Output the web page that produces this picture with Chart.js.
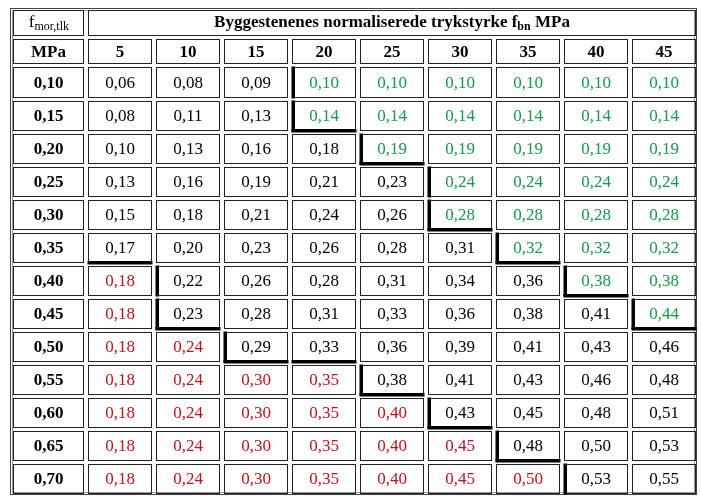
<!DOCTYPE html>
<html><head><meta charset="utf-8">
<script src="https://cdn.jsdelivr.net/npm/chart.js@4/dist/chart.umd.min.js"></script>
<style>html,body{margin:0;padding:0;background:#fff}#c{display:block}</style>
</head><body>
<div style="width:701px;height:501px"><canvas id="c"></canvas></div>
<script>
const colLabels = ['5','10','15','20','25','30','35','40','45'];
const rowLabels = ['0,10','0,15','0,20','0,25','0,30','0,35','0,40','0,45','0,50','0,55','0,60','0,65','0,70'];
const values = [
 [0.06,0.08,0.09,0.10,0.10,0.10,0.10,0.10,0.10],
 [0.08,0.11,0.13,0.14,0.14,0.14,0.14,0.14,0.14],
 [0.10,0.13,0.16,0.18,0.19,0.19,0.19,0.19,0.19],
 [0.13,0.16,0.19,0.21,0.23,0.24,0.24,0.24,0.24],
 [0.15,0.18,0.21,0.24,0.26,0.28,0.28,0.28,0.28],
 [0.17,0.20,0.23,0.26,0.28,0.31,0.32,0.32,0.32],
 [0.18,0.22,0.26,0.28,0.31,0.34,0.36,0.38,0.38],
 [0.18,0.23,0.28,0.31,0.33,0.36,0.38,0.41,0.44],
 [0.18,0.24,0.29,0.33,0.36,0.39,0.41,0.43,0.46],
 [0.18,0.24,0.30,0.35,0.38,0.41,0.43,0.46,0.48],
 [0.18,0.24,0.30,0.35,0.40,0.43,0.45,0.48,0.51],
 [0.18,0.24,0.30,0.35,0.40,0.45,0.48,0.50,0.53],
 [0.18,0.24,0.30,0.35,0.40,0.45,0.50,0.53,0.55]
];
// first green column per row (9 = none), last red column per row (-1 = none)
const greenFrom = [3,3,4,5,5,6,7,8,9,9,9,9,9];
const redTo = [-1,-1,-1,-1,-1,-1,0,0,1,3,4,5,6];
// thick staircase borders: [row, col] pairs
const thickLeft = [[0,3],[1,3],[2,4],[3,5],[4,5],[5,6],[6,7],[6,1],[7,8],[7,1],[8,2],[9,4],[10,5],[11,6],[12,7]];
const thickBottom = [[1,3],[2,4],[4,5],[5,6],[5,0],[6,7],[7,8],[7,1],[8,2],[8,3],[9,4],[10,5],[11,6]];
const titleMain = 'Byggestenenes normaliserede trykstyrke f';
const titleSub = 'bn';
const titleEnd = ' MPa';

const FW = 1.1, HH = 0.87;
const GREEN = '#17984a', RED = '#c0121c';
const serif = '"Liberation Serif","Times New Roman",serif';

const tablePlugin = {
  id: 'table',
  afterDraw(chart) {
    const ctx = chart.ctx, xs = chart.scales.x, ys = chart.scales.y;
    const X = v => xs.getPixelForValue(v), Y = v => ys.getPixelForValue(v);
    const colL = c => c < 0 ? 0 : FW + c, colR = c => c < 0 ? FW : FW + c + 1;
    const rowT = r => 2*HH + r, rowB = r => 2*HH + r + 1;
    ctx.save();
    // outer border
    const a = chart.chartArea;
    ctx.strokeStyle = '#444'; ctx.lineWidth = 1;
    ctx.strokeRect(a.left+0.5, a.top+0.5, a.right-a.left-1, a.bottom-a.top-1);
    ctx.strokeStyle = '#999';
    ctx.strokeRect(a.left+2.5, a.top+2.5, a.right-a.left-5, a.bottom-a.top-5);
    function cell(x0,x1,y0,y1){
      const l = Math.round(X(x0))+3.5, r = Math.round(X(x1))-1.5;
      const t = Math.round(Y(y0))+2.5, b = Math.round(Y(y1))-1.5;
      ctx.strokeStyle = '#222'; ctx.lineWidth = 1;
      ctx.strokeRect(l, t, r-l, b-t);
      return {l, r, t, b, cx:(l+r)/2, cy:(t+b)/2};
    }
    ctx.textAlign = 'center'; ctx.textBaseline = 'middle';
    // header
    let c = cell(0, FW, 0, HH);
    ctx.fillStyle = '#000';
    ctx.font = '17px '+serif; ctx.textAlign='right'; ctx.fillText('f', c.cx-14, c.cy);
    ctx.font = '12px '+serif; ctx.textAlign='left'; ctx.fillText('mor,tlk', c.cx-14, c.cy+4);
    c = cell(FW, FW+9, 0, HH);
    ctx.font = 'bold 17px '+serif;
    const w1 = ctx.measureText(titleMain).width, w3 = ctx.measureText(titleEnd).width;
    ctx.font = 'bold 12px '+serif; const w2 = ctx.measureText(titleSub).width;
    let sx = c.cx - (w1+w2+w3)/2;
    ctx.textAlign='left';
    ctx.font = 'bold 17px '+serif; ctx.fillText(titleMain, sx, c.cy);
    ctx.font = 'bold 12px '+serif; ctx.fillText(titleSub, sx+w1, c.cy+4);
    ctx.font = 'bold 17px '+serif; ctx.fillText(titleEnd, sx+w1+w2, c.cy);
    ctx.textAlign='center';
    c = cell(0, FW, HH, 2*HH); ctx.fillText('MPa', c.cx, c.cy+1);
    colLabels.forEach((t,i)=>{ c = cell(colL(i), colR(i), HH, 2*HH); ctx.fillText(t, c.cx, c.cy+1); });
    // body
    const cells = {};
    rowLabels.forEach((rl, r) => {
      ctx.fillStyle = '#000'; ctx.font = 'bold 17px '+serif;
      c = cell(0, FW, rowT(r), rowB(r)); ctx.fillText(rl, c.cx, c.cy+1);
      values[r].forEach((v, i) => {
        c = cell(colL(i), colR(i), rowT(r), rowB(r));
        cells[r+','+i] = c;
        ctx.fillStyle = i >= greenFrom[r] ? GREEN : (i <= redTo[r] ? RED : '#000');
        ctx.font = '17px '+serif;
        ctx.fillText(v.toFixed(2).replace('.', ','), c.cx, c.cy+1);
      });
    });
    ctx.fillStyle = '#000';
    thickLeft.forEach(([r,i]) => { const k = cells[r+','+i]; ctx.fillRect(k.l-1, k.t-1, 3.5, k.b-k.t+2); });
    thickBottom.forEach(([r,i]) => { const k = cells[r+','+i]; ctx.fillRect(k.l-1, k.b-1.5, k.r-k.l+2, 3.5); });
    ctx.restore();
  }
};

new Chart(document.getElementById('c'), {
  type: 'scatter',
  data: { datasets: [{ data: [], pointRadius: 0 }] },
  options: {
    responsive: true, maintainAspectRatio: false, animation: false,
    layout: { padding: { left: 10, right: 4, top: 8, bottom: 6 } },
    plugins: { legend: { display: false }, tooltip: { enabled: false } },
    scales: {
      x: { type: 'linear', min: 0, max: FW + colLabels.length, display: false },
      y: { type: 'linear', min: 0, max: 2*HH + rowLabels.length, reverse: true, display: false }
    }
  },
  plugins: [tablePlugin]
});
</script>
</body></html>
